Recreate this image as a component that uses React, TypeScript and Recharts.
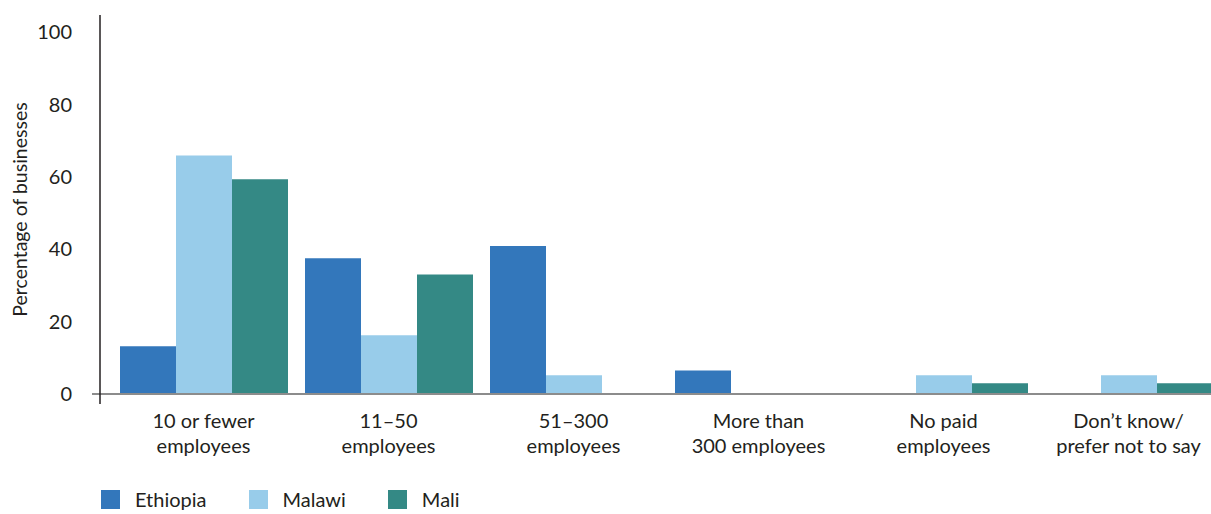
import {
  BarChart,
  Bar,
  XAxis,
  YAxis,
  Legend,
  ReferenceLine,
} from "recharts";

const categories = [
  "10 or fewer\nemployees",
  "11–50\nemployees",
  "51–300\nemployees",
  "More than\n300 employees",
  "No paid\nemployees",
  "Don’t know/\nprefer not to say",
];

const ethiopia = [13.2, 37.5, 40.9, 6.5, 0, 0];
const malawi = [65.9, 16.2, 5.2, 0, 5.2, 5.2];
const mali = [59.3, 33.0, 0, 0, 3.0, 3.0];

const yTicks = [0, 20, 40, 60, 80, 100];

const seriesNames = ["Ethiopia", "Malawi", "Mali"];
const colors = ["#3377BB", "#98CCEA", "#348985"];

const chartData = categories.map((name, i) => ({
  name,
  Ethiopia: ethiopia[i],
  Malawi: malawi[i],
  Mali: mali[i],
}));

const FONT = "Lato, 'Noto Sans', sans-serif";
const TEXT = "#231F20";

function CategoryTick({ x, y, payload }: any) {
  const lines = String(payload.value).split("\n");
  return (
    <text x={x} y={y} textAnchor="middle" fill={TEXT} fontSize={20} fontFamily={FONT}>
      {lines.map((l, i) => (
        <tspan key={i} x={x} y={y + 24 + i * 25}>
          {l}
        </tspan>
      ))}
    </text>
  );
}

function BaseLine(props: any) {
  return (
    <line
      x1={props.x1 - 8}
      y1={props.y1}
      x2={props.x2}
      y2={props.y2}
      stroke="#8c8c8c"
      strokeWidth={2}
    />
  );
}

function LegendBox() {
  return (
    <div style={{ display: "flex", height: 30, alignItems: "flex-start", fontFamily: FONT }}>
      {seriesNames.map((s, i) => (
        <div key={s} style={{ display: "flex", alignItems: "flex-start", marginRight: 42 }}>
          <div style={{ width: 19, height: 19, marginTop: 1, background: colors[i] }} />
          <span style={{ marginLeft: 15, fontSize: 20, lineHeight: "20px", color: TEXT }}>{s}</span>
        </div>
      ))}
    </div>
  );
}

export default function App() {
  return (
    <div
      style={{
        position: "absolute",
        top: 0,
        left: 0,
        width: 1211,
        height: 514,
        overflow: "hidden",
        background: "#fff",
      }}
    >
      <BarChart
        width={1221}
        height={526}
        data={chartData}
        margin={{ top: 15, right: 0, bottom: 0, left: 0 }}
        barCategoryGap={9}
        barGap={0}
      >
        <XAxis
          dataKey="name"
          axisLine={false}
          tickLine={false}
          tickSize={0}
          tickMargin={0}
          height={92}
          padding={{ left: 11, right: 0 }}
          interval={0}
          tick={<CategoryTick />}
        />
        <YAxis
          domain={[0, 100]}
          ticks={yTicks}
          width={100}
          padding={{ top: 17, bottom: 10 }}
          axisLine={{ stroke: "#231F20", strokeWidth: 1.5 }}
          tickLine={false}
          tickSize={0}
          tickMargin={28}
          tick={{ fill: TEXT, fontSize: 20, fontFamily: FONT }}
          label={{
            value: "Percentage of businesses",
            angle: -90,
            position: "insideLeft",
            offset: 20,
            style: { textAnchor: "middle", fill: TEXT, fontSize: 19.5, fontFamily: FONT },
          }}
        />
        <Legend
          verticalAlign="bottom"
          content={<LegendBox />}
          wrapperStyle={{ left: 101, top: 489, width: "auto" }}
        />
        {seriesNames.map((s, i) => (
          <Bar key={s} dataKey={s} fill={colors[i]} isAnimationActive={false} />
        ))}
        <ReferenceLine y={0} shape={<BaseLine />} ifOverflow="visible" />
      </BarChart>
    </div>
  );
}
